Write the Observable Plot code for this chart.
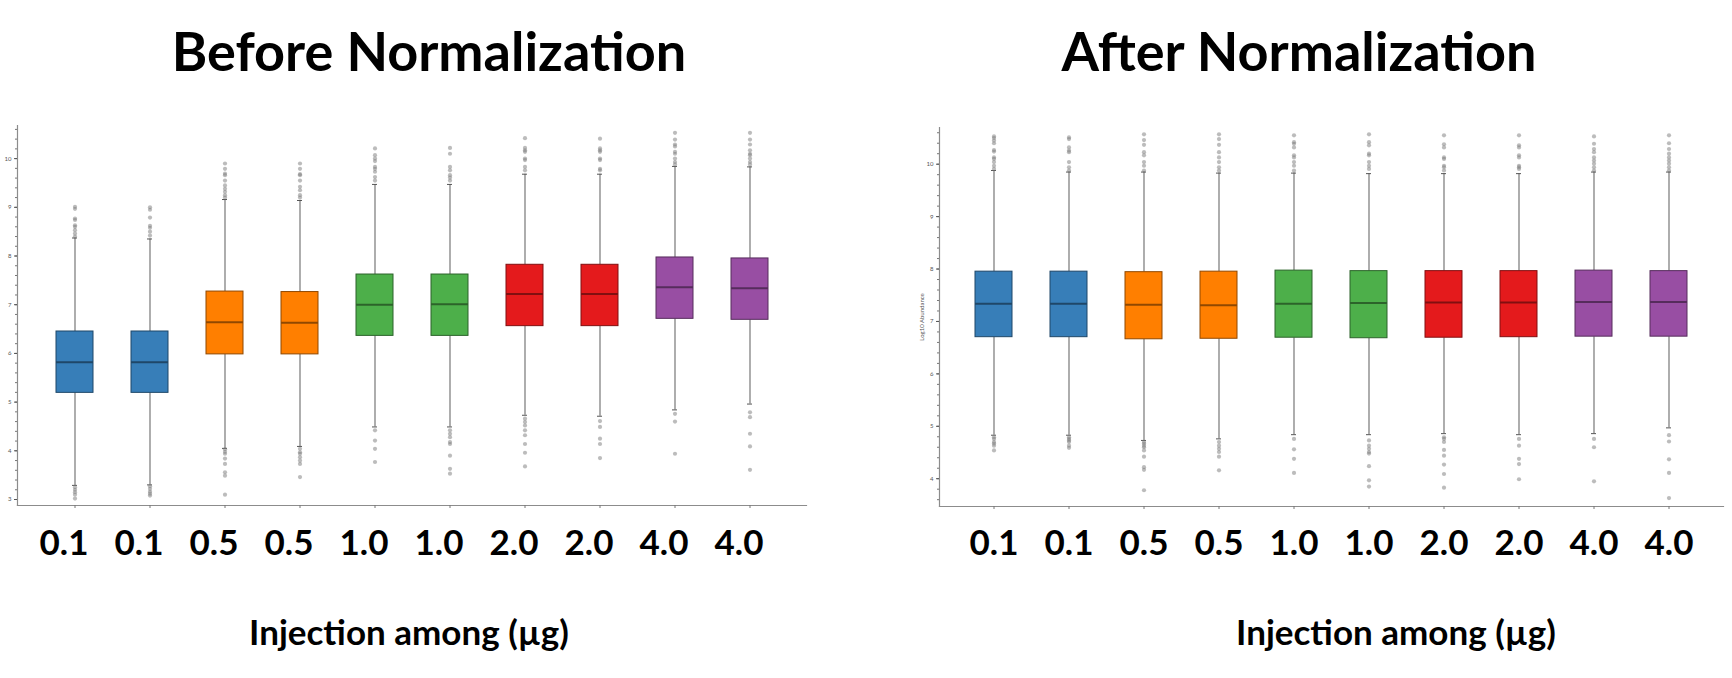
<!DOCTYPE html>
<html>
<head>
<meta charset="utf-8">
<script src="https://cdn.jsdelivr.net/npm/d3@7"></script>
<script src="https://cdn.jsdelivr.net/npm/@observablehq/plot@0.6"></script>
<style>
  html, body { margin: 0; padding: 0; background: #fff; }
  #wrap { position: relative; width: 1732px; height: 678px; overflow: hidden; font-family: Lato, "Open Sans", sans-serif; }
  .title { position: absolute; font-weight: 700; font-size: 54px; line-height: 54px; white-space: nowrap; color: #000; transform: translateX(-50%); }
  .xlabel { position: absolute; font-weight: 700; font-size: 35px; line-height: 35px; white-space: nowrap; color: #000; transform: translateX(-50%); }
  .chart { position: absolute; top: 110px; }
</style>
</head>
<body>
<div id="wrap"></div>
<script>
// ---------- data ----------
const sampleIds = ["S1","S2","S3","S4","S5","S6","S7","S8","S9","S10"];
const doses = ["0.1","0.1","0.5","0.5","1.0","1.0","2.0","2.0","4.0","4.0"];
const sampleColors = ["#377eb8","#377eb8","#ff7f00","#ff7f00","#4daf4a","#4daf4a","#e41a1c","#e41a1c","#984ea3","#984ea3"];
const yTicks = [3,4,5,6,7,8,9,10];

const titles = ["Before Normalization", "After Normalization"];
const xTitle = "Injection among (µg)";
const yTitle = "Log10 Abundance";

// Before normalization (Log10 abundance)
const beforeQ1     = [5.19,5.19,5.98,5.98,6.36,6.36,6.56,6.56,6.71,6.69];
const beforeMedian = [5.82,5.82,6.64,6.63,7.00,7.01,7.22,7.22,7.36,7.34];
const beforeQ3     = [6.45,6.45,7.27,7.26,7.62,7.62,7.82,7.82,7.97,7.95];
const beforeLow    = [3.29,3.30,4.05,4.09,4.49,4.49,4.73,4.71,4.84,4.96];
const beforeHigh   = [8.37,8.35,9.16,9.14,9.47,9.47,9.68,9.68,9.84,9.83];
const beforeOutliers = [
  [9.01,8.97,8.77,8.74,8.63,8.60,8.53,8.46,8.40, 3.25,3.20,3.15,3.10,3.02],
  [9.00,8.95,8.79,8.62,8.58,8.50,8.42, 3.27,3.22,3.16,3.12,3.08],
  [9.90,9.79,9.69,9.66,9.55,9.45,9.38,9.32,9.25,9.20, 4.03,3.98,3.94,3.84,3.73,3.56,3.49,3.10],
  [9.90,9.79,9.68,9.66,9.55,9.42,9.35,9.25,9.20, 4.04,3.97,3.94,3.87,3.80,3.73,3.46],
  [10.21,10.07,10.0,9.95,9.83,9.79,9.73,9.62,9.55, 4.42,4.21,4.04,3.77],
  [10.22,10.10,9.83,9.76,9.66,9.61,9.55, 4.42,4.35,4.28,4.18,4.14,3.90,3.63,3.53],
  [10.42,10.22,10.17,10.14,10.0,9.97,9.83,9.76, 4.66,4.59,4.52,4.42,4.32,4.14,3.96,3.68],
  [10.41,10.21,10.17,10.14,10.0,9.97,9.79,9.76, 4.61,4.49,4.25,4.14,3.85],
  [10.53,10.39,10.29,10.25,10.14,10.10,10.0,9.93,9.88, 4.76,4.60,3.94],
  [10.53,10.39,10.29,10.17,10.10,10.07,10.0,9.93,9.88, 4.79,4.69,4.35,4.09,3.61]
];

// After normalization
const afterQ1     = [6.70,6.70,6.66,6.67,6.69,6.68,6.69,6.70,6.71,6.71];
const afterMedian = [7.34,7.34,7.32,7.31,7.34,7.35,7.36,7.36,7.37,7.37];
const afterQ3     = [7.95,7.95,7.94,7.95,7.97,7.96,7.96,7.96,7.97,7.96];
const afterLow    = [4.83,4.83,4.73,4.76,4.84,4.84,4.86,4.84,4.86,4.97];
const afterHigh   = [9.88,9.85,9.85,9.83,9.83,9.82,9.82,9.82,9.85,9.85];
const afterOutliers = [
  [10.53,10.50,10.45,10.40,10.27,10.24,10.13,10.10,10.04,9.97,9.91, 4.79,4.76,4.70,4.67,4.63,4.54],
  [10.51,10.48,10.32,10.26,10.23,10.04,9.94,9.88, 4.79,4.76,4.73,4.70,4.63,4.59],
  [10.57,10.46,10.37,10.23,10.17,10.04,9.97,9.88, 4.70,4.67,4.63,4.60,4.54,4.42,4.22,4.17,3.78],
  [10.57,10.48,10.37,10.23,10.13,10.04,9.94,9.88, 4.70,4.63,4.57,4.51,4.42,4.16],
  [10.55,10.42,10.39,10.32,10.17,10.13,10.04,9.97,9.88, 4.76,4.56,4.38,4.11],
  [10.57,10.42,10.36,10.20,10.17,10.04,9.97,9.91, 4.73,4.63,4.57,4.51,4.48,4.24,3.97,3.85],
  [10.55,10.38,10.32,10.13,10.10,9.97,9.94,9.88, 4.79,4.76,4.70,4.55,4.44,4.27,4.09,3.83],
  [10.55,10.36,10.32,10.17,10.13,9.97,9.94,9.91, 4.76,4.63,4.38,4.28,3.99],
  [10.53,10.39,10.29,10.23,10.13,10.07,10.01,9.94,9.88, 4.76,4.60,3.95],
  [10.55,10.40,10.29,10.20,10.13,10.07,10.01,9.94,9.88, 4.83,4.71,4.37,4.11,3.63]
];

// ---------- build ----------
const doseById = new Map(sampleIds.map((s, i) => [s, doses[i]]));

function stats(q1, med, q3, lo, hi) {
  return sampleIds.map((s, i) => ({
    s, q1: q1[i], med: med[i], q3: q3[i], lo: lo[i], hi: hi[i],
    fill: sampleColors[i],
    dark: d3.color(sampleColors[i]).darker(1.6).formatHex()
  }));
}
function outl(list) {
  return list.flatMap((vals, i) => vals.map(v => ({ s: sampleIds[i], v })));
}

function chart({ st, out, yDomain, width, marginLeft, marginRight, marginTop, marginBottom, labelPad, labelDx, yLabel }) {
  const minor = d3.range(Math.ceil(yDomain[0] * 5), Math.floor(yDomain[1] * 5) + 1).map(k => k / 5);
  const major = yTicks.filter(t => t >= yDomain[0] && t <= yDomain[1]);
  return Plot.plot({
    width, height: 470, marginLeft, marginRight, marginTop, marginBottom,
    style: { fontFamily: "Lato, sans-serif", background: "transparent", overflow: "visible" },
    x: { type: "band", domain: sampleIds, paddingInner: 0.512, paddingOuter: 0.46, axis: null },
    y: { domain: yDomain, axis: null },
    color: { type: "identity" },
    marks: [
      Plot.frame({ anchor: "left", stroke: "#8c8c8c", strokeWidth: 1.2 }),
      Plot.frame({ anchor: "bottom", stroke: "#8c8c8c", strokeWidth: 1.2 }),
      Plot.axisY({ ticks: minor, tickSize: 2, tickFormat: () => "", color: "#777", label: null }),
      Plot.axisY({ ticks: major, tickSize: 3, tickPadding: 3, fontSize: 6, color: "#555",
                   label: yLabel, labelAnchor: "center", labelArrow: "none", labelOffset: 20 }),
      Plot.axisX({ tickSize: 3, tickFormat: () => "", color: "#777", label: null }),
      Plot.axisX({ tickSize: 0, tickPadding: labelPad, tickFormat: d => doseById.get(d), dx: labelDx,
                   fontSize: 35, fontWeight: "bold", color: "#000", label: null }),
      Plot.ruleX(st, { x: "s", y1: "q3", y2: "hi", stroke: "#777", strokeWidth: 1.2 }),
      Plot.ruleX(st, { x: "s", y1: "lo", y2: "q1", stroke: "#777", strokeWidth: 1.2 }),
      Plot.tickY(st, { x: "s", y: "hi", insetLeft: 16, insetRight: 16, stroke: "#555" }),
      Plot.tickY(st, { x: "s", y: "lo", insetLeft: 16, insetRight: 16, stroke: "#555" }),
      Plot.dot(out, { x: "s", y: "v", r: 2.1, fill: "#7a7a7a", fillOpacity: 0.5 }),
      Plot.barY(st, { x: "s", y1: "q1", y2: "q3", fill: "fill", stroke: "dark", strokeWidth: 1 }),
      Plot.tickY(st, { x: "s", y: "med", stroke: "dark", strokeWidth: 2 })
    ]
  });
}

const wrap = document.getElementById("wrap");

const left = chart({
  st: stats(beforeQ1, beforeMedian, beforeQ3, beforeLow, beforeHigh),
  out: outl(beforeOutliers),
  yDomain: [2.877, 10.68],
  width: 830, marginLeft: 17, marginRight: 24, marginTop: 15, marginBottom: 75,
  labelPad: 25, labelDx: -11, yLabel: null
});
left.classList.add("chart");
left.style.left = "0px";
wrap.appendChild(left);

const right = chart({
  st: stats(afterQ1, afterMedian, afterQ3, afterLow, afterHigh),
  out: outl(afterOutliers),
  yDomain: [3.47, 10.70],
  width: 866, marginLeft: 73, marginRight: 9, marginTop: 17, marginBottom: 74,
  labelPad: 24, labelDx: 0, yLabel: yTitle
});
right.classList.add("chart");
right.style.left = "866px";
wrap.appendChild(right);

function addText(cls, text, cx, top) {
  const d = document.createElement("div");
  d.className = cls;
  d.textContent = text;
  d.style.left = cx + "px";
  d.style.top = top + "px";
  wrap.appendChild(d);
}
addText("title", titles[0], 429, 24);
addText("title", titles[1], 1299, 24);
addText("xlabel", xTitle, 409, 614);
addText("xlabel", xTitle, 1396, 614);
</script>
</body>
</html>
